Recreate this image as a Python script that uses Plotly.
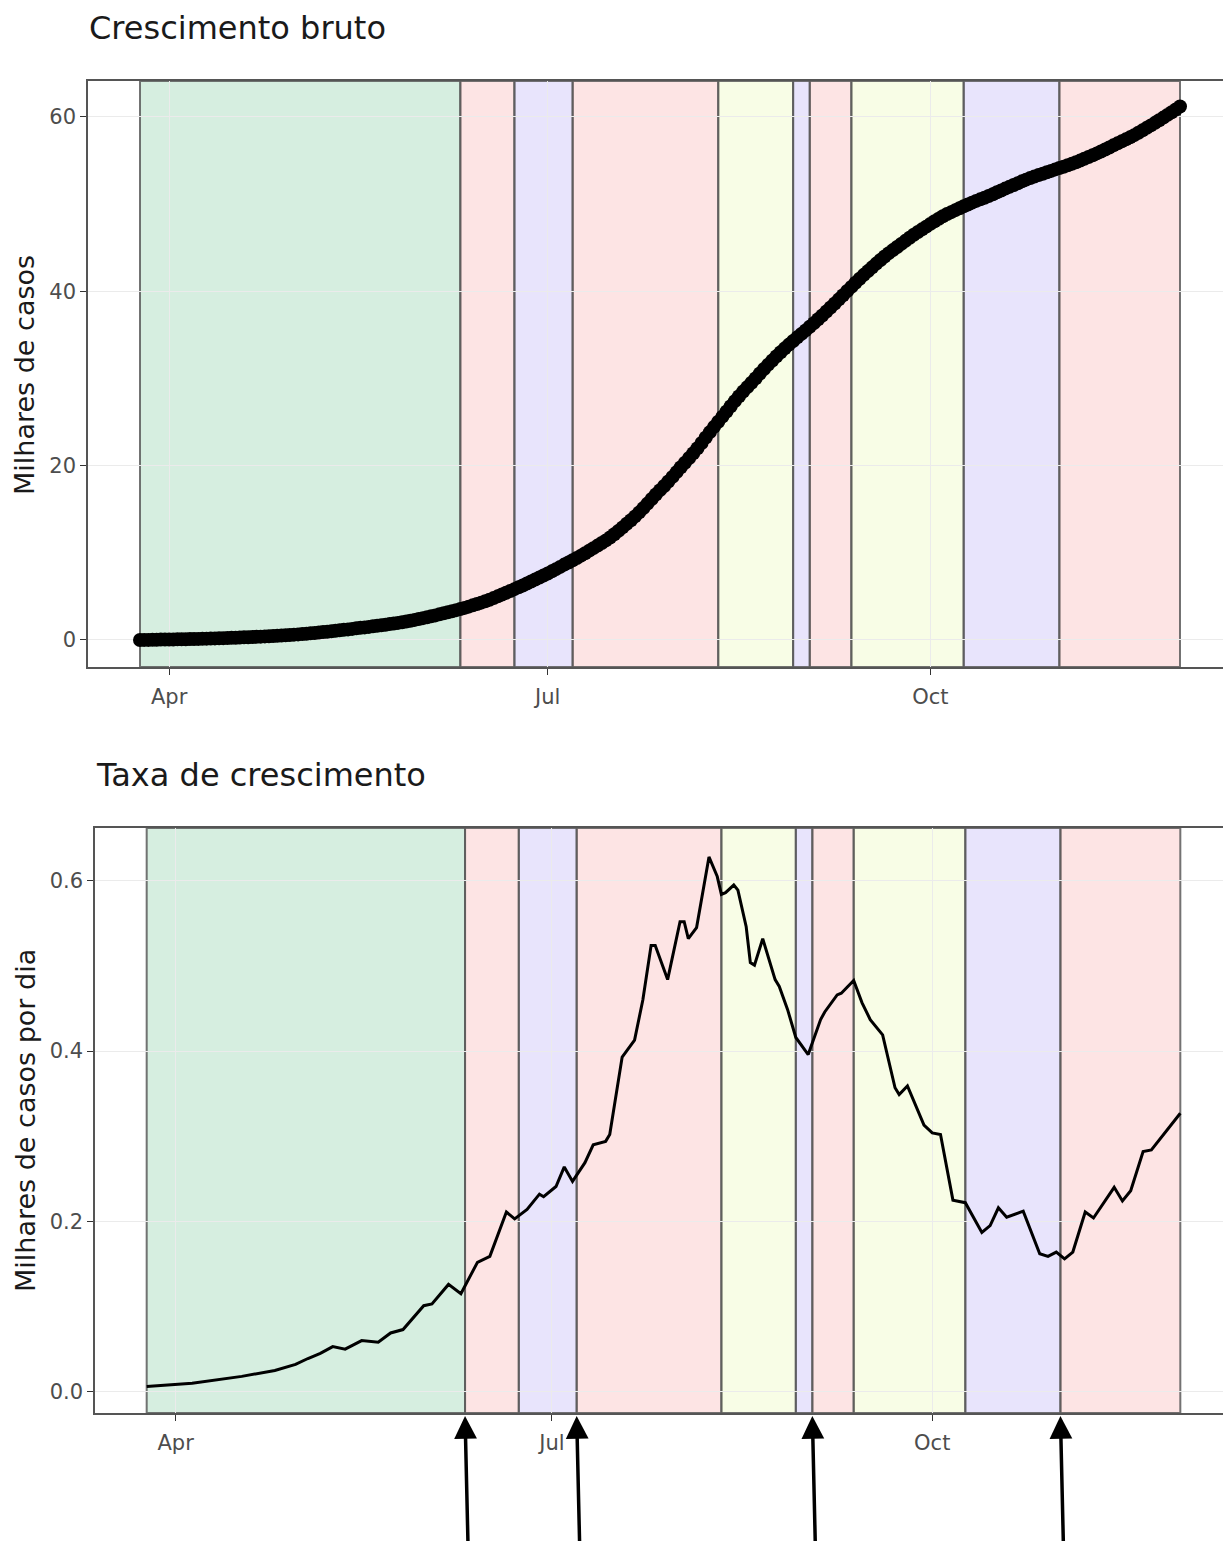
import plotly.graph_objects as go
import pandas as pd

# ---------------- data ----------------
# cumulative cases (thousands), daily from 2020-03-25 to 2020-11-30
cum_mar = [0.00, 0.01, 0.01, 0.02, 0.03, 0.04, 0.05]
cum_apr = [0.05, 0.06, 0.07, 0.08, 0.09, 0.10, 0.11, 0.12, 0.13, 0.15, 0.16, 0.18, 0.19, 0.21, 0.22,
           0.24, 0.26, 0.28, 0.30, 0.32, 0.34, 0.36, 0.38, 0.41, 0.43, 0.46, 0.49, 0.51, 0.54, 0.57]
cum_may = [0.61, 0.64, 0.68, 0.72, 0.76, 0.80, 0.85, 0.90, 0.95, 1.00, 1.05, 1.10, 1.16, 1.21, 1.27, 1.33,
           1.39, 1.44, 1.50, 1.56, 1.62, 1.69, 1.75, 1.82, 1.89, 1.96, 2.04, 2.12, 2.21, 2.30, 2.40]
cum_jun = [2.50, 2.60, 2.71, 2.82, 2.94, 3.06, 3.18, 3.30, 3.42, 3.54, 3.68, 3.82, 3.97, 4.13, 4.28,
           4.44, 4.61, 4.80, 5.00, 5.21, 5.42, 5.62, 5.83, 6.04, 6.25, 6.47, 6.70, 6.93, 7.16, 7.39]
cum_jul = [7.63, 7.87, 8.12, 8.38, 8.64, 8.89, 9.14, 9.40, 9.67, 9.95, 10.24, 10.53, 10.82, 11.12, 11.42,
           11.75, 12.12, 12.51, 12.91, 13.32, 13.73, 14.17, 14.63, 15.12, 15.64, 16.17, 16.68, 17.18,
           17.66, 18.17, 18.70]
cum_aug = [19.25, 19.80, 20.33, 20.87, 21.42, 21.99, 22.59, 23.22, 23.84, 24.44, 25.03, 25.61, 26.20,
           26.80, 27.39, 27.95, 28.50, 29.00, 29.50, 30.02, 30.55, 31.07, 31.57, 32.05, 32.53, 32.99,
           33.44, 33.87, 34.29, 34.70, 35.10]
cum_sep = [35.50, 35.91, 36.33, 36.77, 37.21, 37.67, 38.13, 38.59, 39.06, 39.53, 40.01, 40.49, 40.96,
           41.42, 41.87, 42.30, 42.73, 43.16, 43.58, 43.98, 44.36, 44.71, 45.06, 45.42, 45.77, 46.12,
           46.46, 46.78, 47.09, 47.40]
cum_oct = [47.71, 48.01, 48.31, 48.59, 48.84, 49.06, 49.29, 49.51, 49.73, 49.94, 50.15, 50.35, 50.53,
           50.72, 50.92, 51.12, 51.34, 51.55, 51.76, 51.96, 52.17, 52.38, 52.59, 52.79, 52.98, 53.15,
           53.31, 53.47, 53.63, 53.79, 53.96]
cum_nov = [54.12, 54.27, 54.43, 54.60, 54.78, 54.97, 55.18, 55.39, 55.59, 55.80, 56.02, 56.25, 56.48,
           56.72, 56.95, 57.18, 57.41, 57.64, 57.89, 58.16, 58.44, 58.73, 59.01, 59.30, 59.60, 59.90,
           60.21, 60.52, 60.84, 61.17]
cum_start = "2020-03-25"
cum_end = "2020-11-30"

# growth rate (thousands of cases per day)
rate_dates = [
    "2020-03-25", "2020-04-05", "2020-04-17", "2020-04-25", "2020-04-30",
    "2020-05-03", "2020-05-06", "2020-05-09", "2020-05-12", "2020-05-16", "2020-05-20", "2020-05-23",
    "2020-05-26", "2020-05-31",
    "2020-06-02", "2020-06-06", "2020-06-09", "2020-06-13", "2020-06-16", "2020-06-20", "2020-06-22",
    "2020-06-25", "2020-06-28", "2020-06-29",
    "2020-07-02", "2020-07-04", "2020-07-06", "2020-07-09", "2020-07-11", "2020-07-14", "2020-07-15",
    "2020-07-18", "2020-07-21", "2020-07-23", "2020-07-25", "2020-07-26", "2020-07-29",
    "2020-08-01", "2020-08-02", "2020-08-03", "2020-08-05", "2020-08-06", "2020-08-08", "2020-08-10",
    "2020-08-11", "2020-08-12", "2020-08-14", "2020-08-15", "2020-08-17", "2020-08-18", "2020-08-19",
    "2020-08-21", "2020-08-22", "2020-08-24", "2020-08-25", "2020-08-27", "2020-08-29",
    "2020-09-01", "2020-09-04", "2020-09-05", "2020-09-08", "2020-09-09", "2020-09-12", "2020-09-14",
    "2020-09-16", "2020-09-19", "2020-09-22", "2020-09-23", "2020-09-25", "2020-09-29",
    "2020-10-01", "2020-10-03", "2020-10-06", "2020-10-09", "2020-10-13", "2020-10-15", "2020-10-17",
    "2020-10-19", "2020-10-23", "2020-10-27", "2020-10-29", "2020-10-31",
    "2020-11-02", "2020-11-04", "2020-11-07", "2020-11-09", "2020-11-14", "2020-11-16", "2020-11-18",
    "2020-11-21", "2020-11-23", "2020-11-30"]
rate_values = [
    0.006, 0.010, 0.018, 0.025, 0.032,
    0.039, 0.045, 0.053, 0.050, 0.060, 0.058, 0.069, 0.073, 0.101,
    0.103, 0.126, 0.115, 0.152, 0.159, 0.211, 0.203, 0.214, 0.232, 0.229,
    0.241, 0.264, 0.247, 0.269, 0.290, 0.294, 0.302, 0.393, 0.413, 0.460, 0.524, 0.524, 0.484,
    0.552, 0.552, 0.532, 0.545, 0.574, 0.628, 0.605, 0.584, 0.586, 0.595, 0.589, 0.546, 0.504, 0.501,
    0.532, 0.515, 0.484, 0.476, 0.449, 0.416,
    0.396, 0.437, 0.446, 0.466, 0.468, 0.483, 0.457, 0.437, 0.419, 0.357, 0.349, 0.359, 0.313,
    0.304, 0.302, 0.225, 0.222, 0.187, 0.195, 0.216, 0.205, 0.212, 0.162, 0.159, 0.164,
    0.156, 0.164, 0.211, 0.204, 0.240, 0.224, 0.236, 0.282, 0.284, 0.327]

# phases (background bands)
band_starts = ["2020-03-25", "2020-06-10", "2020-06-23", "2020-07-07", "2020-08-11",
               "2020-08-29", "2020-09-02", "2020-09-12", "2020-10-09", "2020-11-01"]
band_ends = ["2020-06-10", "2020-06-23", "2020-07-07", "2020-08-11", "2020-08-29",
             "2020-09-02", "2020-09-12", "2020-10-09", "2020-11-01", "2020-11-30"]
band_phase = ["green", "red", "purple", "red", "yellow", "purple", "red", "yellow", "purple", "red"]

arrow_dates = ["2020-06-10", "2020-07-07", "2020-09-02", "2020-11-01"]

x_tick_vals = ["2020-04-01", "2020-07-01", "2020-10-01"]
x_tick_text = ["Apr", "Jul", "Oct"]
y1_ticks = [0, 20, 40, 60]
y2_ticks = [0.0, 0.2, 0.4, 0.6]

titles = ["Crescimento bruto", "Taxa de crescimento"]
ytitles = ["Milhares de casos", "Milhares de casos por dia"]

# ---------------- styling ----------------
W, H = 1231, 1541
OFF = 8  # page body margin in the browser
FONT = "DejaVu Sans"


def px(x):
    return (x - OFF) / W


def py(y):
    return 1 - (y - OFF) / H


phase_fill = {
    "green": "rgba(91,187,131,0.25)",
    "red": "rgba(245,120,120,0.2)",
    "purple": "rgba(140,120,240,0.2)",
    "yellow": "rgba(220,245,130,0.2)",
}

cum_values = cum_mar + cum_apr + cum_may + cum_jun + cum_jul + cum_aug + cum_sep + cum_oct + cum_nov
cum_dates = pd.date_range(cum_start, cum_end, freq="D")

fig = go.Figure()
fig.add_trace(go.Scatter(x=cum_dates, y=cum_values, mode="markers", xaxis="x", yaxis="y",
                         marker=dict(color="black", size=14, line=dict(width=0)),
                         showlegend=False, hoverinfo="skip"))
fig.add_trace(go.Scatter(x=rate_dates, y=rate_values, mode="lines", xaxis="x2", yaxis="y2",
                         line=dict(color="black", width=3),
                         showlegend=False, hoverinfo="skip"))

shapes = []
for xr, yr in (("x", "y"), ("x2", "y2")):
    for s, e, p in zip(band_starts, band_ends, band_phase):
        shapes.append(dict(type="rect", xref=xr, yref=yr + " domain", x0=s, x1=e, y0=0, y1=1,
                           fillcolor=phase_fill[p], layer="below",
                           line=dict(color="rgba(90,90,90,0.85)", width=2)))

xrange_ = ["2020-03-12 12:00", "2020-12-12 12:00"]
TICKFONT = dict(family=FONT, size=21, color="#4d4d4d")


def xaxis_cfg(dom, anchor):
    return dict(domain=dom, anchor=anchor, type="date", range=xrange_,
                tickvals=x_tick_vals, ticktext=x_tick_text,
                showgrid=True, gridcolor="#ebebeb", gridwidth=1,
                ticks="outside", ticklen=6, tickcolor="#333333", tickwidth=1,
                ticklabelstandoff=4, tickfont=TICKFONT,
                showline=True, linecolor="#555555", linewidth=1.5, mirror=True,
                zeroline=False)


def yaxis_cfg(dom, anchor, rng, ticks, fmt):
    return dict(domain=dom, anchor=anchor, range=rng, tickvals=ticks, tickformat=fmt,
                showgrid=True, gridcolor="#ebebeb", gridwidth=1,
                ticks="outside", ticklen=6, tickcolor="#333333", tickwidth=1,
                tickfont=TICKFONT,
                showline=True, linecolor="#555555", linewidth=1.5, mirror=True,
                zeroline=False)


top_dom = [py(667), py(81)]
bot_dom = [py(1413), py(828)]

annotations = [
    dict(text=titles[0], x=px(87), y=py(28), xref="paper", yref="paper",
         xanchor="left", yanchor="middle", showarrow=False,
         font=dict(family=FONT, size=32, color="#1a1a1a")),
    dict(text=titles[1], x=px(94), y=py(775), xref="paper", yref="paper",
         xanchor="left", yanchor="middle", showarrow=False,
         font=dict(family=FONT, size=32, color="#1a1a1a")),
    dict(text=ytitles[0], x=px(25), y=py(375), xref="paper", yref="paper",
         xanchor="center", yanchor="middle", showarrow=False, textangle=-90,
         font=dict(family=FONT, size=27, color="#1a1a1a")),
    dict(text=ytitles[1], x=px(25), y=py(1121), xref="paper", yref="paper",
         xanchor="center", yanchor="middle", showarrow=False, textangle=-90,
         font=dict(family=FONT, size=27, color="#1a1a1a")),
]
for d in arrow_dates:
    annotations.append(dict(text="", x=d, y=py(1416), xref="x2", yref="paper",
                            showarrow=True, ax=3, ay=130, arrowhead=2, arrowsize=1.3,
                            arrowwidth=3.5, arrowcolor="black", standoff=0))

fig.update_layout(
    width=W, height=H, margin=dict(l=0, r=0, t=0, b=0),
    paper_bgcolor="white", plot_bgcolor="rgba(0,0,0,0)",
    font=dict(family=FONT),
    xaxis=xaxis_cfg([px(88), px(1232)], "y"),
    yaxis=yaxis_cfg(top_dom, "x", [-3.1, 64.1], y1_ticks, "d"),
    xaxis2=xaxis_cfg([px(95), px(1232)], "y2"),
    yaxis2=yaxis_cfg(bot_dom, "x2", [-0.025, 0.662], y2_ticks, ".1f"),
    shapes=shapes, annotations=annotations,
)

fig.write_html("out.html")
